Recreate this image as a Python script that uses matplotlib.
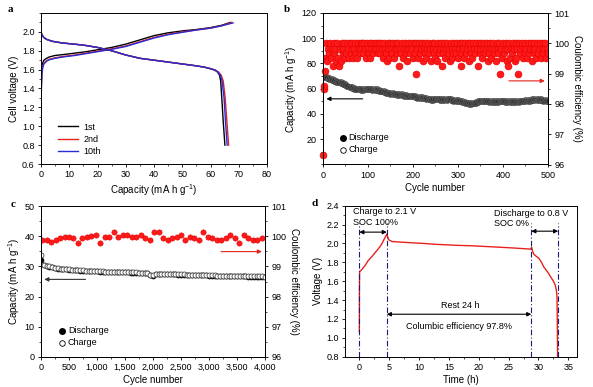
import numpy as np
import matplotlib
matplotlib.use("Agg")
import matplotlib.pyplot as plt
from matplotlib.ticker import FuncFormatter, MultipleLocator

plt.rcParams['font.family'] = ['Liberation Sans', 'DejaVu Sans']
plt.rcParams['font.size'] = 6.5
plt.rcParams['axes.linewidth'] = 0.7
plt.rcParams['mathtext.default'] = 'regular'

# ---------------- Panel a data ----------------
a_chg1_cap = [0, 0.1, 0.3, 0.6, 1, 2, 3, 5, 8, 12, 16, 20, 25, 30, 35, 40, 45, 50, 55, 60, 64, 67]
a_chg1_v = [1.05, 1.45, 1.62, 1.67, 1.70, 1.72, 1.735, 1.75, 1.76, 1.775, 1.79, 1.81, 1.835, 1.87, 1.915, 1.96, 1.99, 2.01, 2.025, 2.045, 2.07, 2.10]
a_chg2_cap = [0, 0.1, 0.3, 0.6, 1, 2, 3, 5, 8, 12, 16, 20, 25, 30, 35, 40, 45, 50, 55, 60, 64, 67.5]
a_chg2_v = [1.05, 1.38, 1.57, 1.63, 1.67, 1.695, 1.71, 1.725, 1.74, 1.755, 1.775, 1.795, 1.82, 1.85, 1.895, 1.94, 1.975, 2.0, 2.02, 2.04, 2.065, 2.10]
a_chg10_cap = [0, 0.1, 0.3, 0.6, 1, 2, 3, 5, 8, 12, 16, 20, 25, 30, 35, 40, 45, 50, 55, 60, 64, 68]
a_chg10_v = [1.05, 1.35, 1.55, 1.62, 1.66, 1.69, 1.705, 1.72, 1.735, 1.75, 1.77, 1.79, 1.815, 1.845, 1.89, 1.935, 1.97, 1.995, 2.02, 2.04, 2.065, 2.095]
a_dis1_cap = [0, 0.3, 1, 2, 4, 7, 10, 15, 20, 25, 30, 35, 40, 45, 50, 55, 58, 60, 61.5, 62.5, 63.2, 63.6, 64.0, 64.5, 65.1]
a_dis2_cap = [0, 0.3, 1, 2, 4, 7, 10, 15, 20, 25, 30, 35, 40, 45, 50, 55, 58, 60, 61.7, 62.8, 63.8, 64.5, 65.2, 65.8, 66.4]
a_dis10_cap = [0, 0.3, 1, 2, 4, 7, 10, 15, 20, 25, 30, 35, 40, 45, 50, 55, 58, 60, 61.6, 62.6, 63.5, 64.1, 64.8, 65.3, 65.9]
a_dis_v = [2.0, 1.97, 1.94, 1.92, 1.90, 1.885, 1.875, 1.86, 1.835, 1.80, 1.755, 1.72, 1.70, 1.68, 1.66, 1.64, 1.625, 1.61, 1.595, 1.575, 1.54, 1.48, 1.3, 1.05, 0.8]
a_labels = ['1st', '2nd', '10th']
a_colors = ['black', '#e8211d', '#2b2bd6']

# ---------------- Panel b data ----------------
b_cap_cycles = list(range(5, 501, 5))
b_discharge = [69, 68.5, 68, 67, 66.5, 65.5, 65, 64.5, 63.5, 63, 62, 61, 60.5, 60, 59.5, 59.5, 59, 59, 59.5, 59.5,
               59.5, 59, 59, 59, 58.5, 58, 57.5, 57, 56.5, 56, 56, 55.5, 55, 55, 55, 54.5, 54.5, 54, 54, 54,
               53.5, 53, 53, 53, 52.5, 52, 51.5, 51, 51, 51.5, 51.5, 51, 51, 51, 51, 51.5, 51, 50.5, 50.5, 50.5,
               50, 49.5, 49, 48.5, 48, 48, 48.5, 49, 49.5, 50, 50, 50, 50, 49.5, 49.5, 49.5, 49.5, 49.5, 50, 50,
               49.5, 49.5, 49.5, 49.5, 49.5, 49.5, 49.5, 50, 50, 50.5, 50.5, 50.5, 51, 51, 51, 51, 51, 50.5, 50.5, 50]
b_charge = [69.6, 69, 68.5, 67.6, 67, 66.2, 65.5, 65, 64.2, 63.5, 62.5, 61.6, 61, 60.6, 60, 60, 59.6, 59.5, 60, 60,
            60, 59.6, 59.5, 59.5, 59, 58.6, 58, 57.6, 57, 56.6, 56.5, 56, 55.6, 55.5, 55.5, 55, 55, 54.6, 54.5, 54.5,
            54, 53.6, 53.5, 53.5, 53, 52.6, 52, 51.6, 51.5, 52, 52, 51.6, 51.5, 51.5, 51.5, 52, 51.6, 51, 51, 51,
            50.6, 50, 49.6, 49, 48.6, 48.5, 49, 49.6, 50, 50.5, 50.6, 50.5, 50.5, 50, 50, 50, 50, 50, 50.5, 50.5,
            50, 50, 50, 50, 50, 50, 50, 50.5, 50.6, 51, 51, 51, 51.5, 51.6, 51.5, 51.5, 51.5, 51, 51, 50.6]
b_ce_init_cycles = [1, 2, 3, 4]
b_ce_init = [96.3, 98.5, 98.6, 99.1]
b_ce_cycles = list(range(6, 501, 2))
b_ce = [99.52, 100.0, 99.4, 99.82, 99.68, 100.0, 99.52, 99.82,
        99.25, 100.0, 99.68, 99.82, 99.4, 100.0, 99.52, 99.25,
        99.82, 99.4, 100.0, 99.68, 99.82, 100.0, 99.52, 99.68,
        100.0, 99.82, 99.52, 100.0, 99.68, 99.82, 100.0, 99.52,
        99.82, 100.0, 99.68, 99.52, 100.0, 99.82, 99.68, 100.0,
        99.82, 100.0, 99.68, 100.0, 99.82, 99.52, 100.0, 99.82,
        99.68, 100.0, 99.52, 99.82, 100.0, 99.68, 99.82, 100.0,
        99.82, 100.0, 99.68, 100.0, 99.82, 99.68, 100.0, 99.82,
        99.52, 100.0, 99.82, 99.68, 99.4, 100.0, 99.82, 99.52,
        100.0, 99.82, 99.68, 100.0, 99.52, 99.82, 100.0, 99.68,
        99.82, 100.0, 99.25, 99.82, 99.68, 100.0, 99.52, 99.82,
        100.0, 99.68, 99.82, 99.4, 100.0, 99.82, 99.68, 100.0,
        99.82, 99.52, 100.0, 99.68, 99.0, 100.0, 99.82, 99.52,
        100.0, 99.68, 99.82, 100.0, 99.4, 99.82, 99.68, 100.0,
        99.52, 99.82, 100.0, 99.68, 99.82, 99.4, 100.0, 99.82,
        99.68, 100.0, 99.52, 99.82, 99.4, 100.0, 99.68, 99.82,
        100.0, 99.25, 99.82, 99.68, 100.0, 99.52, 99.82, 100.0,
        99.68, 99.82, 99.4, 100.0, 99.52, 99.82, 99.68, 100.0,
        99.82, 99.68, 100.0, 99.52, 99.82, 100.0, 99.25, 99.68,
        100.0, 99.82, 99.52, 100.0, 99.68, 99.82, 100.0, 99.4,
        99.82, 100.0, 99.68, 99.52, 100.0, 99.82, 99.68, 100.0,
        99.82, 99.25, 100.0, 99.68, 99.82, 100.0, 99.52, 99.82,
        100.0, 99.68, 99.82, 100.0, 99.4, 99.82, 99.68, 100.0,
        99.52, 99.82, 100.0, 99.68, 99.82, 99.4, 100.0, 99.82,
        99.68, 100.0, 99.0, 99.82, 99.52, 100.0, 99.68, 99.82,
        100.0, 99.4, 99.82, 99.25, 100.0, 99.52, 99.82, 99.68,
        100.0, 99.82, 99.4, 100.0, 99.52, 99.82, 99.0, 100.0,
        99.68, 99.82, 100.0, 99.52, 99.82, 99.68, 100.0, 99.82,
        99.52, 100.0, 99.68, 99.82, 100.0, 99.4, 99.82, 99.68,
        100.0, 99.82, 99.52, 100.0, 99.68, 99.82, 100.0, 99.52,
        99.82, 100.0, 99.68, 99.82, 100.0, 99.52, 99.82, 99.68]

# ---------------- Panel c data ----------------
c_cap_cycles = [1] + list(range(50, 4001, 50))
c_charge = [33.8, 30.5, 30.2, 30.0, 29.8, 29.6, 29.4, 29.3, 29.2, 29.1, 29.0, 28.9, 28.8, 28.8, 28.7, 28.7, 28.6, 28.6, 28.5, 28.5, 28.5,
            28.4, 28.4, 28.3, 28.3, 28.3, 28.2, 28.2, 28.2, 28.1, 28.1, 28.1, 28.0, 28.0, 28.0, 27.9, 27.9, 27.8, 27.8, 27.3, 27.0,
            27.5, 27.6, 27.6, 27.6, 27.5, 27.5, 27.5, 27.5, 27.4, 27.4, 27.4, 27.3, 27.3, 27.3, 27.2, 27.2, 27.2, 27.1, 27.1, 27.0,
            27.0, 27.0, 26.9, 26.9, 26.9, 26.9, 26.8, 26.9, 26.8, 26.8, 26.8, 26.8, 26.8, 26.7, 26.7, 26.7, 26.7, 26.7, 26.7, 26.6]
c_discharge = [32.1, 30.4, 30.1, 29.9, 29.7, 29.5, 29.3, 29.2, 29.1, 29.0, 28.9, 28.8, 28.7, 28.7, 28.6, 28.6, 28.5, 28.5, 28.4, 28.4, 28.4,
               28.3, 28.3, 28.2, 28.2, 28.2, 28.1, 28.1, 28.1, 28.0, 28.0, 28.0, 27.9, 27.9, 27.9, 27.8, 27.8, 27.7, 27.7, 27.2, 26.9,
               27.4, 27.5, 27.5, 27.5, 27.4, 27.4, 27.4, 27.4, 27.3, 27.3, 27.3, 27.2, 27.2, 27.2, 27.1, 27.1, 27.1, 27.0, 27.0, 26.9,
               26.9, 26.9, 26.8, 26.8, 26.8, 26.8, 26.7, 26.8, 26.7, 26.7, 26.7, 26.7, 26.7, 26.6, 26.6, 26.6, 26.6, 26.6, 26.6, 26.5]
c_ce_cycles = list(range(20, 4001, 80))
c_ce = [99.87, 99.87, 99.82, 99.87, 99.93, 99.98, 99.98, 99.93, 99.78, 99.93,
        99.98, 100.0, 100.05, 99.76, 99.98, 99.98, 100.15, 99.98, 100.05, 100.05,
        99.98, 99.98, 100.05, 99.93, 99.87, 100.15, 100.15, 99.93, 99.87, 99.93,
        99.98, 100.05, 99.87, 99.98, 99.93, 99.87, 100.15, 99.98, 99.93, 99.87,
        99.87, 99.93, 100.05, 99.93, 99.76, 100.05, 99.93, 99.87, 99.87, 99.93]

# ---------------- Panel d data ----------------
d_time = [0, 0.02, 0.05, 0.2, 0.45, 1.0, 1.5, 2.1, 2.6, 3.0, 3.5, 3.8, 4.2, 4.6, 4.75, 4.9, 5.5, 8, 10.8, 13, 16.4, 19, 22, 25, 28.7,
          28.85, 29.0, 29.2, 29.6, 30.1, 30.5, 30.9, 31.5, 32.0, 32.5, 32.8, 33.0, 33.1, 33.15, 33.2]
d_volt = [1.065, 1.55, 1.70, 1.71, 1.726, 1.77, 1.82, 1.86, 1.90, 1.93, 1.97, 2.0, 2.05, 2.10, 2.07, 2.04, 2.02, 2.01, 2.0, 1.99, 1.98, 1.975, 1.965, 1.955, 1.94,
          1.96, 1.92, 1.888, 1.865, 1.84, 1.80, 1.75, 1.70, 1.65, 1.60, 1.56, 1.50, 1.44, 1.2, 0.8]
d_vlines = [0, 4.6, 28.8, 33.3]

W, H = 593, 387
fig = plt.figure(figsize=(W / 100, H / 100), dpi=100)


def box(l, t, r, b):
    return [l / W, 1 - b / H, (r - l) / W, (b - t) / H]


def style(ax):
    ax.tick_params(direction='out', length=2.5, width=0.6, pad=2, labelsize=6.5)
    ax.tick_params(which='minor', direction='out', length=1.5, width=0.5)


# ---- Panel a ----
axa = fig.add_axes(box(41, 13, 267, 164))
for cc, vv, col in zip([a_chg1_cap, a_chg2_cap, a_chg10_cap], [a_chg1_v, a_chg2_v, a_chg10_v], a_colors):
    axa.plot(cc, vv, color=col, lw=1.0)
for dc, col, lab in zip([a_dis1_cap, a_dis2_cap, a_dis10_cap], a_colors, a_labels):
    axa.plot(dc, a_dis_v, color=col, lw=1.0, label=lab)
axa.set_xlim(0, 80)
axa.set_ylim(0.6, 2.2)
axa.set_yticks(np.arange(0.6, 2.01, 0.2))
axa.set_xticks(range(0, 81, 10))
axa.yaxis.set_minor_locator(MultipleLocator(0.1))
axa.xaxis.set_minor_locator(MultipleLocator(5))
axa.yaxis.set_major_formatter(FuncFormatter(lambda v, p: f'{v:.1f}'))
axa.set_xlabel('Capacity (mA h g$^{-1}$)', fontsize=7, labelpad=2)
axa.set_ylabel('Cell voltage (V)', fontsize=7, labelpad=2)
style(axa)
axa.legend(loc='lower left', bbox_to_anchor=(0.04, 0.0), frameon=False, fontsize=6.5,
           handlelength=2.2, handletextpad=0.6, labelspacing=0.35)

# ---- Panel b ----
axb = fig.add_axes(box(322.7, 13, 548, 164.5))
axb.plot(b_cap_cycles, b_charge, 'o', ms=4.2, mfc='none', mec='#555555', mew=0.6, zorder=3)
axb.plot(b_cap_cycles, b_discharge, 'o', ms=4.2, mfc='#2a2a2a', mec='#2a2a2a', mew=0.3, zorder=2)
axb.set_xlim(0, 500)
axb.set_ylim(0, 120)
axb.set_yticks(range(20, 121, 20))
axb.set_xticks(range(0, 501, 100))
axb.yaxis.set_minor_locator(MultipleLocator(10))
axb.xaxis.set_minor_locator(MultipleLocator(50))
axb.set_xlabel('Cycle number', fontsize=7, labelpad=2)
axb.set_ylabel('Capacity (mA h g$^{-1}$)', fontsize=7, labelpad=2)
style(axb)
axb2 = axb.twinx()
axb2.plot(b_ce_cycles, b_ce, 'o', ms=5, color='#ff1a1a', mec='#e00000', mew=0.4)
axb2.plot(b_ce_init_cycles, b_ce_init, 'o', ms=5, color='#ff1a1a', mec='#e00000', mew=0.4, clip_on=False)
axb2.set_ylim(96, 101)
axb2.set_yticks(range(96, 102))
axb2.yaxis.set_minor_locator(MultipleLocator(0.5))
axb2.set_ylabel('Coulombic efficiency (%)', fontsize=7, rotation=270, labelpad=9)
style(axb2)
axb.annotate('', xy=(2, 52), xytext=(95, 52),
             arrowprops=dict(arrowstyle='-|>', color='black', lw=0.8, mutation_scale=6))
axb2.annotate('', xy=(499, 98.76), xytext=(407, 98.76),
              arrowprops=dict(arrowstyle='-|>', color='#e8211d', lw=0.8, mutation_scale=6))
axb2.plot([45], [96 + 21 / 24], 'o', ms=4, color='black')
axb2.text(57, 96 + 21 / 24, 'Discharge', fontsize=6.5, va='center')
axb2.plot([45], [96 + 11.5 / 24], 'o', ms=4, mfc='none', mec='black', mew=0.6)
axb2.text(57, 96 + 11.5 / 24, 'Charge', fontsize=6.5, va='center')

# ---- Panel c ----
axc = fig.add_axes(box(41, 206, 265, 357))
axc.plot(c_cap_cycles, c_discharge, 'o', ms=3.6, mfc='black', mec='black', mew=0.5, zorder=2)
axc.plot(c_cap_cycles, c_charge, 'o', ms=3.6, mfc='white', mec='#444444', mew=0.6, zorder=3)
axc.set_xlim(0, 4000)
axc.set_ylim(0, 50)
axc.set_xticks(range(0, 4001, 500))
axc.xaxis.set_major_formatter(FuncFormatter(lambda v, p: f'{int(v):,}'))
axc.set_yticks(range(0, 51, 10))
axc.yaxis.set_minor_locator(MultipleLocator(5))
axc.xaxis.set_minor_locator(MultipleLocator(250))
axc.set_xlabel('Cycle number', fontsize=7, labelpad=2)
axc.set_ylabel('Capacity (mA h g$^{-1}$)', fontsize=7, labelpad=2)
style(axc)
axc2 = axc.twinx()
axc2.plot(c_ce_cycles, c_ce, 'o', ms=3.8, color='#ff1a1a', mec='#e00000', mew=0.4)
axc2.set_ylim(96, 101)
axc2.set_yticks(range(96, 102))
axc2.yaxis.set_minor_locator(MultipleLocator(0.5))
axc2.set_ylabel('Coulombic efficiency (%)', fontsize=7, rotation=270, labelpad=9)
style(axc2)
axc.annotate('', xy=(10, 25.7), xytext=(845, 25.7),
             arrowprops=dict(arrowstyle='-|>', color='#333333', lw=0.8, mutation_scale=6))
axc2.annotate('', xy=(3995, 99.49), xytext=(3166, 99.49),
              arrowprops=dict(arrowstyle='-|>', color='#e8211d', lw=0.8, mutation_scale=6))
axc2.plot([370], [96 + 8.7 / 10], 'o', ms=4, color='black')
axc2.text(480, 96 + 8.7 / 10, 'Discharge', fontsize=6.5, va='center')
axc2.plot([370], [96 + 4.7 / 10], 'o', ms=4, mfc='none', mec='black', mew=0.6)
axc2.text(480, 96 + 4.7 / 10, 'Charge', fontsize=6.5, va='center')

# ---- Panel d ----
axd = fig.add_axes(box(345, 205.7, 576.7, 356.7))
axd.plot(d_time, d_volt, color='#e8211d', lw=1.0)
for xv in d_vlines:
    axd.plot([xv, xv], [0.8, 2.22], color='#1a1a7a', lw=0.8, ls=(0, (5, 2, 1, 2)))
axd.set_xlim(-2.4, 36.4)
axd.set_ylim(0.8, 2.4)
axd.set_xticks(range(0, 36, 5))
axd.set_yticks(np.arange(0.8, 2.41, 0.2))
axd.yaxis.set_minor_locator(MultipleLocator(0.1))
axd.xaxis.set_minor_locator(MultipleLocator(2.5))
axd.yaxis.set_major_formatter(FuncFormatter(lambda v, p: f'{v:.1f}'))
axd.set_xlabel('Time (h)', fontsize=7, labelpad=2)
axd.set_ylabel('Voltage (V)', fontsize=7, labelpad=2)
style(axd)
arr = dict(arrowstyle='<|-|>', color='black', lw=0.8, mutation_scale=6, shrinkA=0, shrinkB=0)
axd.annotate('', xy=(0, 2.12), xytext=(4.6, 2.12), arrowprops=arr)
axd.annotate('', xy=(28.8, 2.13), xytext=(33.3, 2.13), arrowprops=arr)
axd.annotate('', xy=(4.6, 1.25), xytext=(28.8, 1.25), arrowprops=arr)
axd.text(-1.0, 2.34, 'Charge to 2.1 V', fontsize=6.5, va='center')
axd.text(-1.0, 2.22, 'SOC 100%', fontsize=6.5, va='center')
axd.text(22.6, 2.32, 'Discharge to 0.8 V', fontsize=6.5, va='center')
axd.text(22.6, 2.21, 'SOC 0%', fontsize=6.5, va='center')
axd.text(16.9, 1.34, 'Rest 24 h', fontsize=6.5, ha='center', va='center')
axd.text(16.7, 1.12, 'Columbic efficiency 97.8%', fontsize=6.5, ha='center', va='center')

# panel letters
for lab, x, y in [('a', 10, 10), ('b', 287, 10), ('c', 12.7, 204), ('d', 315, 203)]:
    fig.text(x / W, 1 - y / H, lab, fontsize=8, fontweight='bold', family='Liberation Serif', va='center', ha='center')

fig.savefig('out.png', dpi=100)
